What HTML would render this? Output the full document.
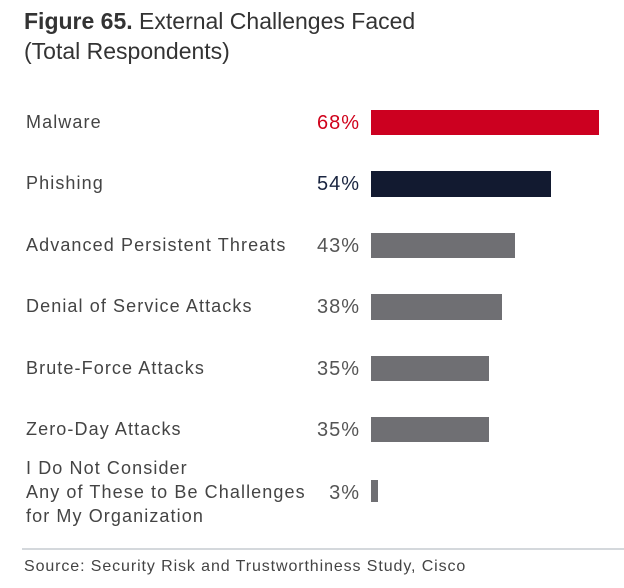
<!DOCTYPE html>
<html><head><style>
body{margin:0;width:624px;height:588px;background:#fff;position:relative;font-family:"Liberation Sans",sans-serif;color:#3c3c3c;overflow:hidden}
.t{position:absolute;left:24px;font-size:23px;color:#333;line-height:30px}
.l{position:absolute;left:26px;font-size:18px;letter-spacing:1.1px;color:#444;line-height:24px}
.p{position:absolute;right:264px;font-size:20px;letter-spacing:1px;color:#555;line-height:24px;text-align:right}
.b{position:absolute;left:371px;background:#6f6f73}
</style></head><body>
<div class="t" style="top:6px"><b>Figure 65.</b> External Challenges Faced</div>
<div class="t" style="top:36px">(Total Respondents)</div>

<div class="l" style="top:110px">Malware</div>
<div class="p" style="top:111px;color:#d0021b">68%</div>
<div class="b" style="top:110px;width:228px;height:25px;background:#cc0020"></div>

<div class="l" style="top:171px">Phishing</div>
<div class="p" style="top:172px;color:#1a2540">54%</div>
<div class="b" style="top:171px;width:180px;height:26px;background:#121a30"></div>

<div class="l" style="top:233px">Advanced Persistent Threats</div>
<div class="p" style="top:234px">43%</div>
<div class="b" style="top:233px;width:144px;height:25px"></div>

<div class="l" style="top:294px">Denial of Service Attacks</div>
<div class="p" style="top:295px">38%</div>
<div class="b" style="top:294px;width:131px;height:26px"></div>

<div class="l" style="top:356px">Brute-Force Attacks</div>
<div class="p" style="top:357px">35%</div>
<div class="b" style="top:356px;width:118px;height:25px"></div>

<div class="l" style="top:417px">Zero-Day Attacks</div>
<div class="p" style="top:418px">35%</div>
<div class="b" style="top:417px;width:118px;height:25px"></div>

<div class="l" style="top:456px">I Do Not Consider<br>Any of These to Be Challenges<br>for My Organization</div>
<div class="p" style="top:481px">3%</div>
<div class="b" style="top:480px;width:7px;height:22px"></div>

<div style="position:absolute;left:22px;right:0;top:548px;height:2px;background:#d4d8dc"></div>
<div style="position:absolute;left:24px;top:558px;font-size:16px;letter-spacing:0.9px;color:#444">Source: Security Risk and Trustworthiness Study, Cisco</div>
</body></html>
